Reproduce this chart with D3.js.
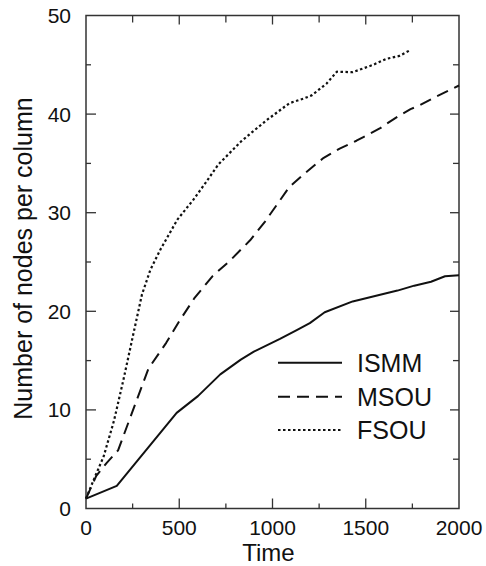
<!DOCTYPE html>
<html><head><meta charset="utf-8">
<script src="https://cdn.jsdelivr.net/npm/d3@7"></script>
<style>body{margin:0;background:#fff}svg{display:block}text{font-family:"Liberation Sans",Arial,sans-serif;fill:#111}</style>
</head><body><svg id="c" width="486" height="566"></svg>
<script>
const seriesNames = ["ISMM", "MSOU", "FSOU"];
const ismmT = [0,165,486,600,720,830,900,1040,1130,1200,1280,1430,1670,1760,1850,1925,2000];
const ismmV = [1,2.3,9.7,11.4,13.6,15.1,15.9,17.2,18.1,18.8,19.9,21.0,22.1,22.6,23.0,23.55,23.65];
const msouT = [0,55,110,172,335,430,500,580,680,770,880,960,1090,1180,1270,1360,1450,1490,1580,1610,1675,1740,1790,1880,2000];
const msouV = [1,3.3,4.6,5.9,14.2,16.8,19.0,21.3,23.6,25.1,27.2,29.1,32.6,34.1,35.5,36.5,37.3,37.7,38.6,39.0,39.8,40.5,40.9,41.8,42.9];
const fsouT = [0,40,95,150,200,255,300,345,400,490,575,640,710,830,880,970,1090,1170,1210,1290,1345,1430,1540,1610,1680,1740];
const fsouV = [1,2.85,5.3,8.9,13.0,17.8,21.7,24.2,26.3,29.3,31.3,33.0,34.9,37.2,38.0,39.4,41.1,41.6,41.9,43.1,44.3,44.25,45.0,45.6,45.9,46.5];
const xTicks = [0,500,1000,1500,2000];
const yTicks = [0,10,20,30,40,50];

const svg = d3.select("#c");
const L=86,R=459,T=15.5,B=508.5;
const x = d3.scaleLinear().domain([0,2000]).range([L,R]);
const y = d3.scaleLinear().domain([0,50]).range([B,T]);
const axisColor="#333";

// frame
svg.append("rect").attr("x",L).attr("y",T).attr("width",R-L).attr("height",B-T)
  .attr("fill","none").attr("stroke",axisColor).attr("stroke-width",1.5);

const minorX = d3.range(0,2001,250), minorY = d3.range(0,51,5);
const g = svg.append("g").attr("stroke",axisColor).attr("stroke-width",1.3);
minorX.forEach(t=>{
  const maj = t%500===0;
  if(t>0&&t<2000){
    g.append("line").attr("x1",x(t)).attr("x2",x(t)).attr("y1",B).attr("y2",B-(maj?10:5));
    g.append("line").attr("x1",x(t)).attr("x2",x(t)).attr("y1",T).attr("y2",T+(maj?9:7));
  }
});
minorY.forEach(v=>{
  const maj = v%10===0;
  if(v>0&&v<50){
    g.append("line").attr("y1",y(v)).attr("y2",y(v)).attr("x1",L).attr("x2",L+(maj?10:5));
    g.append("line").attr("y1",y(v)).attr("y2",y(v)).attr("x1",R).attr("x2",R-(maj?9:6));
  }
});

// tick labels
svg.append("g").selectAll("text").data(xTicks).join("text")
  .attr("x",d=>x(d)).attr("y",535).attr("text-anchor","middle").attr("font-size",21).text(d=>d);
svg.append("g").selectAll("text").data(yTicks).join("text")
  .attr("x",L-15).attr("y",d=>y(d)+7.5).attr("text-anchor","end").attr("font-size",21).text(d=>d);

// axis titles
svg.append("text").attr("x",(L+R)/2-4).attr("y",561).attr("text-anchor","middle").attr("font-size",24).text("Time");
svg.append("text").attr("transform",`translate(32,258.5) rotate(-90)`).attr("text-anchor","middle").attr("font-size",25).text("Number of nodes per column");

// lines
const line = d3.line().x(d=>x(d[0])).y(d=>y(d[1]));
const styles = [
  {dash:null, w:2},
  {dash:"12,7", w:2},
  {dash:"2.5,2.5", w:2.2}
];
const data = [d3.zip(ismmT,ismmV), d3.zip(msouT,msouV), d3.zip(fsouT,fsouV)];
data.forEach((d,i)=>{
  svg.append("path").attr("d",line(d)).attr("fill","none").attr("stroke","#111")
    .attr("stroke-width",styles[i].w).attr("stroke-dasharray",styles[i].dash)
    .attr("stroke-linejoin","round");
});

// legend
const ly=[362.7,396.7,430];
seriesNames.forEach((n,i)=>{
  svg.append("line").attr("x1",278).attr("x2",342).attr("y1",ly[i]).attr("y2",ly[i])
    .attr("stroke","#111").attr("stroke-width",styles[i].w).attr("stroke-dasharray",styles[i].dash);
  svg.append("text").attr("x",357).attr("y",ly[i]+9).attr("font-size",25).text(n);
});
</script></body></html>
